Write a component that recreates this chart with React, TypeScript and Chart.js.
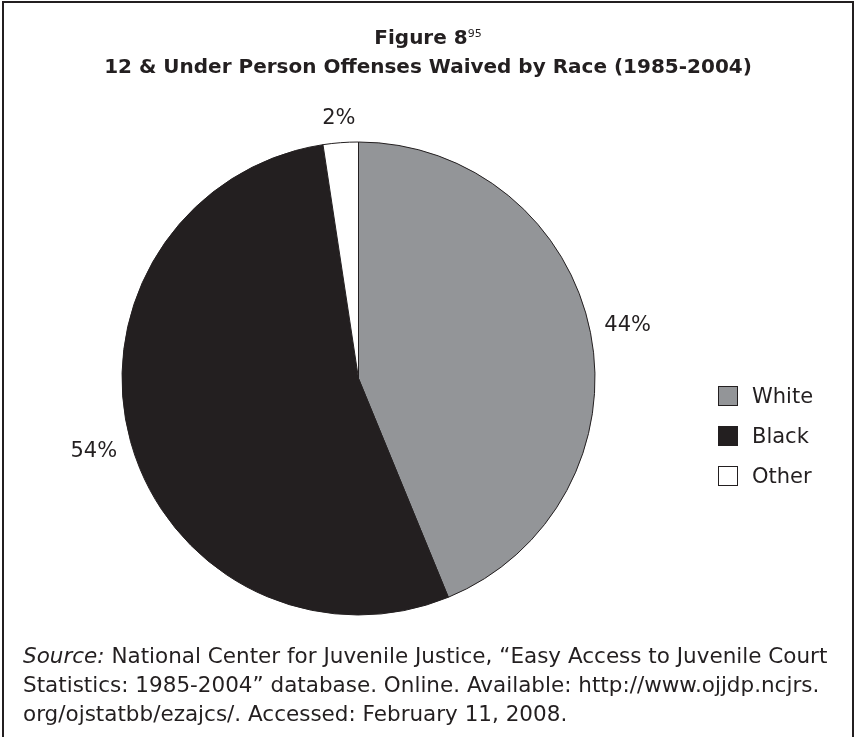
import React, { useEffect, useRef } from "react";
import { Chart, registerables } from "chart.js";

Chart.register(...registerables);

const categories = ["White", "Black", "Other"];
const shares = [43.8, 53.8, 2.4];
const pctLabels = ["44%", "54%", "2%"];
const sliceColors = ["#939598", "#231f20", "#ffffff"];
const titleMain = "Figure 8";
const titleSup = "95";
const titleLine2 = "12 & Under Person Offenses Waived by Race (1985-2004)";

const INK = "#231f20";
const FONT = "'DejaVu Sans', Verdana, sans-serif";

const labelPlugin = {
  id: "outsideLabels",
  afterDatasetsDraw(chart: any) {
    const ctx = chart.ctx;
    const meta = chart.getDatasetMeta(0);
    ctx.save();
    ctx.font = `21px ${FONT}`;
    ctx.fillStyle = INK;
    ctx.textAlign = "center";
    ctx.textBaseline = "middle";
    meta.data.forEach((arc: any, i: number) => {
      const { x, y, startAngle, endAngle, outerRadius } = arc.getProps(
        ["x", "y", "startAngle", "endAngle", "outerRadius"],
        true
      );
      const mid = (startAngle + endAngle) / 2;
      const ux = Math.cos(mid);
      const uy = Math.sin(mid);
      const text = pctLabels[i];
      const w = ctx.measureText(text).width;
      const h = 20;
      const ext = Math.abs(ux) * (w / 2) + Math.abs(uy) * (h / 2);
      const d = outerRadius + 13 + ext;
      ctx.fillText(text, x + ux * d, y + uy * d);
    });
    ctx.restore();
  },
};

export default function App() {
  const ref = useRef<HTMLCanvasElement>(null);
  useEffect(() => {
    if (!ref.current) return;
    const chart = new Chart(ref.current, {
      type: "pie",
      data: {
        labels: categories,
        datasets: [
          {
            data: shares,
            backgroundColor: sliceColors,
            borderColor: INK,
            borderWidth: 1,
          },
        ],
      },
      options: {
        animation: false,
        responsive: false,
        devicePixelRatio: 1,
        layout: { padding: { left: 121.5, right: 262.5, top: 141.5, bottom: 121.5 } },
        plugins: {
          legend: { display: false },
          tooltip: { enabled: false },
          title: { display: false },
        },
      },
      plugins: [labelPlugin],
    });
    return () => chart.destroy();
  }, []);

  return (
    <div
      style={{
        position: "absolute",
        left: 0,
        top: 0,
        width: 858,
        height: 737,
        overflow: "hidden",
        background: "#fff",
        fontFamily: FONT,
        color: INK,
      }}
    >
      <div
        style={{
          position: "absolute",
          left: 2,
          top: 1,
          width: 848,
          height: 800,
          border: `2px solid ${INK}`,
          borderBottom: "none",
        }}
      />
      <canvas
        ref={ref}
        width={858}
        height={737}
        style={{ position: "absolute", left: 0, top: 0, width: 858, height: 737 }}
      />
      <div
        style={{
          position: "absolute",
          left: 2,
          width: 852,
          top: 23,
          textAlign: "center",
          fontWeight: "bold",
          fontSize: 20,
          lineHeight: "29px",
        }}
      >
        <div>
          {titleMain}
          <sup style={{ fontWeight: "normal", fontSize: 11, verticalAlign: "7px", lineHeight: 0 }}>
            {titleSup}
          </sup>
        </div>
        <div>{titleLine2}</div>
      </div>
      <div style={{ position: "absolute", left: 718, top: 376 }}>
        {categories.map((c, i) => (
          <div
            key={c}
            style={{ display: "flex", alignItems: "center", height: 40, fontSize: 21 }}
          >
            <span
              style={{
                display: "inline-block",
                width: 18,
                height: 18,
                background: sliceColors[i],
                border: `1px solid ${INK}`,
                marginRight: 14,
              }}
            />
            <span>{c}</span>
          </div>
        ))}
      </div>
      <div
        style={{
          position: "absolute",
          left: 23,
          top: 641,
          fontSize: 21.5,
          lineHeight: "29px",
          whiteSpace: "nowrap",
        }}
      >
        <div>
          <i>Source:</i> National Center for Juvenile Justice, “Easy Access to Juvenile Court
        </div>
        <div>Statistics: 1985-2004” database. Online. Available: http://www.ojjdp.ncjrs.</div>
        <div>org/ojstatbb/ezajcs/. Accessed: February 11, 2008.</div>
      </div>
    </div>
  );
}
